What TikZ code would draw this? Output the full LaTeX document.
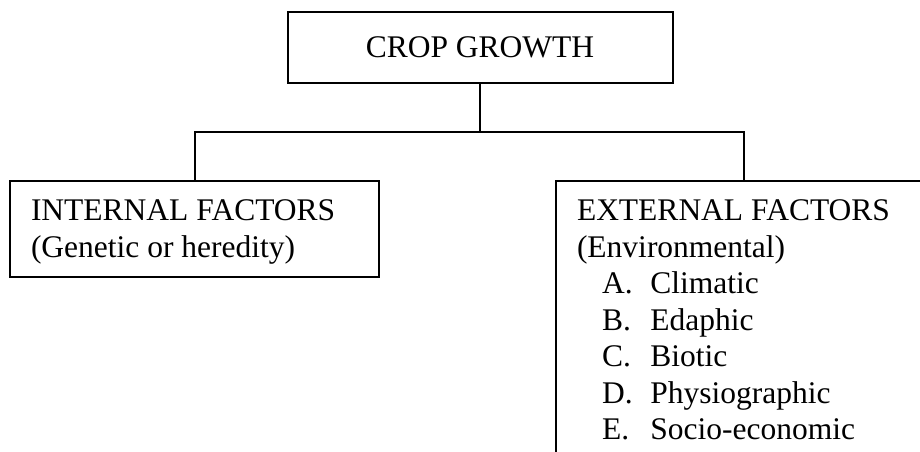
\documentclass[tikz,border=0pt]{standalone}
\usepackage{fontspec}
\setmainfont{Liberation Serif}
\usepackage{tikz}

\tikzset{
  box/.style={draw, line width=2pt, inner sep=0pt},
  txt/.style={anchor=base west, inner sep=0pt, font=\fontsize{31.5pt}{36.5pt}\selectfont}
}

\begin{document}
\begin{tikzpicture}[x=1pt, y=-1pt, line width=2pt]
\useasboundingbox (0,0) rectangle (920,451);

% boxes
\node[box, minimum width=385pt, minimum height=71pt, font=\fontsize{31.5pt}{36.5pt}\selectfont] (crop) at (480,47.5) {CROP GROWTH};
\node[box, anchor=north west, minimum width=369pt, minimum height=96pt] (internal) at (9,180) {};
\node[box, anchor=north west, minimum width=480pt, minimum height=320pt] (external) at (555,180) {};

% connectors
\coordinate (split) at (480,132);
\draw (crop.south) -- (split);
\draw (internal.north) |- (split) -| ([xshift=189pt]external.north west);

% texts
\node[txt] (inttitle) at (30,220.5) {INTERNAL FACTORS};
\node[txt] (intsub) at (30,257) {(Genetic or heredity)};
\node[txt] (exttitle) at (576,220.5) {EXTERNAL FACTORS};
\node[txt] (extsub) at (576,257) {(Environmental)};
\foreach \lab/\item [count=\i] in {A./Climatic, B./Edaphic, C./Biotic, D./Physiographic, E./Socio-economic}
{
  \node[txt] (lab\i) at (601,{293.5+36.5*(\i-1)}) {\lab};
  \node[txt] (item\i) at (649.3,{293.5+36.5*(\i-1)}) {\item};
}
\end{tikzpicture}
\end{document}
